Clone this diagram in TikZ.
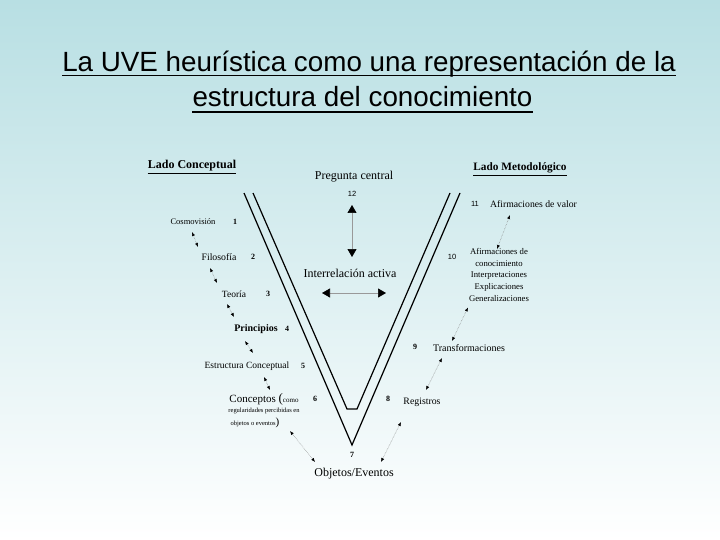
\documentclass[tikz,border=0pt]{standalone}
\usepackage{fontspec}
\setmainfont{Liberation Serif}
\newfontfamily\arialf{Liberation Sans}
\usetikzlibrary{arrows.meta,calc}
\definecolor{bgtop}{RGB}{184,223,227}
\tikzset{
  lbl/.style={inner sep=0pt, font=\fontsize{#1}{#1}\selectfont},
  lbl/.default=10,
  num/.style={inner sep=0pt, font=\fontsize{8}{8}\selectfont\bfseries},
  dart/.style={draw=gray, line width=0.5pt, densely dotted,
    {Latex[length=4pt,width=3.2pt,color=black]}-{Latex[length=4pt,width=3.2pt,color=black]}},
  bigart/.style={draw=gray!80, line width=0.6pt,
    {Triangle[length=8pt,width=9pt,color=black]}-{Triangle[length=8pt,width=9pt,color=black]}},
  vline/.style={draw=black, line width=1.2pt},
  uline/.style={draw=black, line width=#1},
}
\begin{document}
\begin{tikzpicture}[x=1pt,y=-1pt]
\useasboundingbox (0,0) rectangle (720,540);
\shade[top color=bgtop, bottom color=white] (0,0) rectangle (720,540);

% title
\node[inner sep=0pt, anchor=base, font=\arialf\fontsize{27.8}{27.8}\selectfont] (t1) at (369,72) {La UVE heurística como una representación de la};
\node[inner sep=0pt, anchor=base, font=\arialf\fontsize{27.8}{27.8}\selectfont] (t2) at (362.5,107) {estructura del conocimiento};
\draw[uline=1.5pt] ([yshift=-3.5pt]t1.base west) -- ([yshift=-3.5pt]t1.base east);
\draw[uline=1.5pt] ([yshift=-5pt]t2.base west) -- ([yshift=-5pt]t2.base east);

% V shape
\draw[vline] (244,193) -- (352,445) -- (460,193);
\draw[vline] (253,193) -- (347,409) -- (357,409) -- (450,193);

% headings
\node[lbl=12, font=\fontsize{12}{12}\selectfont\bfseries] (lc) at (192,166) {Lado Conceptual};
\draw[uline=0.8pt] ([yshift=-2pt]lc.south west) -- ([yshift=-2pt]lc.south east);
\node[lbl=12, font=\fontsize{11.3}{11.3}\selectfont\bfseries] (lm) at (520,168) {Lado Metodológico};
\draw[uline=0.8pt] ([yshift=-2pt]lm.south west) -- ([yshift=-2pt]lm.south east);

% center
\node[lbl=12] (pc) at (354,177) {Pregunta central};
\node[inner sep=0pt, font=\arialf\fontsize{7.5}{7.5}\selectfont] (n12) at (352,194) {12};
\node[lbl=12] (ia) at (350,273) {Interrelación activa};
\draw[bigart] ($(n12)+(0,11)$) -- ($(ia)+(2,-16)$);
\draw[bigart] ($(ia)+(-28,20)$) -- ($(ia)+(36,20)$);
\node[num] (n7) at (352,455) {7};
\node[lbl=12] (obj) at (354,474) {Objetos/Eventos};

% left side
\node[lbl=8.5] (cosmo) at (193,222) {Cosmovisión};
\node[num] (n1) at (235,222) {1};
\node[lbl=9.8] (filo) at (219,257) {Filosofía};
\node[num] (n2) at (253,257) {2};
\node[lbl=9.5] (teo) at (234,294) {Teoría};
\node[num] (n3) at (268,294) {3};
\node[lbl=10, font=\fontsize{10}{10}\selectfont\bfseries] (princ) at (256,329) {Principios};
\node[num] (n4) at (287,329) {4};
\node[lbl=9.5] (estr) at (247,366) {Estructura Conceptual};
\node[num] (n5) at (303,366) {5};
\node[lbl=11] (conc) at (264,399) {Conceptos {\fontsize{13}{13}\selectfont(}{\fontsize{7}{7}\selectfont como}};
\node[num] (n6) at (315,399) {6};
\node[lbl=6.5] (reg1) at (264,411) {regularidades percibidas en};
\node[lbl=6.5] (reg2) at (255,423) {objetos o eventos{\fontsize{11}{11}\selectfont)}};

\draw[dart] ($(cosmo)+(-1,10)$) -- ($(filo)+(-21,-10)$);
\draw[dart] ($(filo)+(-9,11)$) -- ($(teo)+(-17,-11)$);
\draw[dart] ($(teo)+(-7,10)$) -- ($(princ)+(-22,-12)$);
\draw[dart] ($(princ)+(-11,12)$) -- ($(estr)+(6,-13)$);
\draw[dart] ($(estr)+(17,11)$) -- ($(conc)+(6,-9)$);
\draw[dart] ($(reg2)+(35,8)$) -- ($(obj)+(-39,-12)$);

% right side
\node[inner sep=0pt, font=\arialf\fontsize{7.5}{7.5}\selectfont] (n11) at (475,204) {11};
\node[lbl=9.7] (afv) at (533.5,204) {Afirmaciones de valor};
\node[inner sep=0pt, font=\arialf\fontsize{7.5}{7.5}\selectfont] (n10) at (452,257) {10};
\node[lbl=8.7, align=center, font=\fontsize{8.7}{11.7}\selectfont, anchor=north] (afc) at (499,248)
  {Afirmaciones de\\conocimiento\\Interpretaciones\\Explicaciones\\Generalizaciones};
\node[num] (n9) at (415,347) {9};
\node[lbl=10] (tra) at (469,348) {Transformaciones};
\node[num] (n8) at (388,399) {8};
\node[lbl=9.8] (regi) at (422,402) {Registros};

\draw[dart] ($(afv)+(-23.5,11)$) -- ($(afc.north)+(-2,1)$);
\draw[dart] ($(afc.south)+(-31,6)$) -- ($(tra)+(-17,-7)$);
\draw[dart] ($(tra)+(-27,10)$) -- ($(regi)+(4,-12)$);
\draw[dart] ($(regi)+(-21,20)$) -- ($(obj)+(27,-12)$);
\end{tikzpicture}
\end{document}
